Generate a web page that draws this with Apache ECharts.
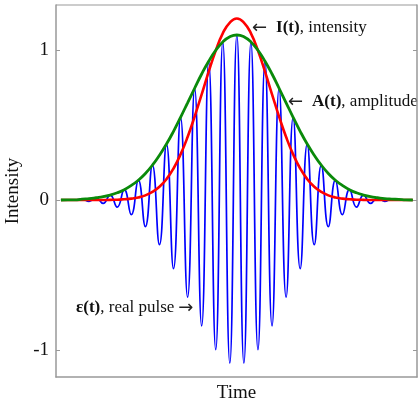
<!DOCTYPE html>
<html>
<head>
<meta charset="utf-8">
<script src="https://cdn.jsdelivr.net/npm/echarts@6/dist/echarts.min.js"></script>
<style>html,body{margin:0;padding:0;background:#fff}#c{width:418px;height:404px}</style>
</head>
<body>
<div id="c"></div>
<script>
// time samples (in half carrier periods, pulse centre at 0)
var time = [-25,-24,-23,-22,-21,-20,-19,-18,-17,-16,-15,-14,-13,-12,-11,-10,-9,-8,-7,-6,-5,-4,-3,-2,-1,0,1,2,3,4,5,6,7,8,9,10,11,12,13,14,15,16,17,18,19,20,21,22,23,24,25];
// real pulse epsilon(t): successive carrier extrema
var pulse = [0,0,-0.001,0.006,-0.009,0.015,-0.022,0.033,-0.048,0.069,-0.097,0.132,-0.177,0.232,-0.298,0.373,-0.458,0.551,-0.648,0.745,-0.840,0.925,-0.998,1.054,-1.088,1.10,-1.088,1.054,-0.998,0.925,-0.840,0.745,-0.648,0.551,-0.458,0.373,-0.298,0.232,-0.177,0.132,-0.097,0.069,-0.048,0.033,-0.022,0.015,-0.009,0.006,-0.001,0,0];
// amplitude envelope A(t)
var amplitude = [0.0,0.001,0.0004,0.006,0.009,0.015,0.022,0.033,0.048,0.069,0.097,0.132,0.177,0.232,0.298,0.373,0.458,0.551,0.648,0.745,0.840,0.925,0.998,1.054,1.088,1.10,1.088,1.054,0.998,0.925,0.840,0.745,0.648,0.551,0.458,0.373,0.298,0.232,0.177,0.132,0.097,0.069,0.048,0.033,0.022,0.015,0.009,0.006,0.004,0.001,0.0];
// intensity I(t)
var intensity = [0,0,0,0,0,0,0,0.001,0.002,0.005,0.009,0.017,0.031,0.054,0.088,0.139,0.210,0.304,0.420,0.556,0.704,0.856,0.996,1.111,1.183,1.21,1.183,1.111,0.996,0.856,0.704,0.556,0.420,0.304,0.210,0.139,0.088,0.054,0.031,0.017,0.009,0.005,0.002,0.001,0,0,0,0,0,0,0];
var yTicks = [-1, 0, 1];

function pairs(v){ return time.map(function(t,i){ return [t, v[i]]; }); }

var serif = '"Liberation Serif","DejaVu Serif",serif';
var arrowFont = '"DejaVu Sans",sans-serif';
var rich = {
  a: { fontFamily: serif, fontSize: 17, fill: '#111' },
  b: { fontFamily: serif, fontSize: 17, fontWeight: 'bold', fill: '#111' },
  r: { fontFamily: arrowFont, fontSize: 18, fill: '#222', padding: [0, 9, 0, 0] },
  l: { fontFamily: arrowFont, fontSize: 18, fill: '#222', padding: [0, 0, 0, 4] }
};
var chart = echarts.init(document.getElementById('c'));
chart.setOption({
  animation: false,
  backgroundColor: '#fff',
  grid: { left: 56, right: 1, top: 5, bottom: 27, show: false, containLabel: false, outerBoundsMode: 'none' },
  xAxis: {
    type: 'value', min: -25.7, max: 25.6,
    name: 'Time', nameLocation: 'middle', nameGap: 7,
    nameTextStyle: { fontFamily: serif, fontSize: 19, color: '#111' },
    axisLine: { show: true, onZero: false, lineStyle: { color: '#999', width: 1.5 } },
    axisTick: { show: false }, axisLabel: { show: false }, splitLine: { show: false }
  },
  yAxis: [{
    type: 'value', min: -1.18, max: 1.3, position: 'left',
    name: 'Intensity', nameLocation: 'middle', nameGap: 20, nameRotate: 90,
    nameTextStyle: { fontFamily: serif, fontSize: 19, color: '#111' },
    axisLine: { show: true, onZero: false, lineStyle: { color: '#999', width: 1.5 } },
    axisTick: { show: true, inside: true, length: 4, customValues: yTicks, lineStyle: { color: '#999' } },
    axisLabel: { show: true, customValues: yTicks, margin: 7, fontFamily: serif, fontSize: 19, color: '#111',
      formatter: function(v){ return String(v); } },
    splitLine: { show: false }
  }, {
    type: 'value', min: -1.18, max: 1.3, position: 'right',
    axisLine: { show: true, onZero: false, lineStyle: { color: '#999', width: 1.5 } },
    axisTick: { show: true, inside: true, length: 4, customValues: yTicks, lineStyle: { color: '#999' } },
    axisLabel: { show: false }, splitLine: { show: false }
  }],
  series: [
    { type: 'line', data: pairs(pulse), smooth: 0.5, showSymbol: false, symbol: 'none',
      lineStyle: { color: '#0000ff', width: 1.7 }, z: 2 },
    { type: 'line', data: pairs(intensity), smooth: 0.5, symbol: 'none',
      lineStyle: { color: '#ff0000', width: 2.6 }, z: 3 },
    { type: 'line', data: pairs(amplitude), smooth: 0.5, symbol: 'none',
      lineStyle: { color: '#0a8a0a', width: 2.8 }, z: 4 }
  ],
  graphic: [
    { type: 'line', shape: { x1: 56, y1: 5, x2: 417, y2: 5 }, style: { stroke: '#bbb', lineWidth: 1.5 }, silent: true },
    { type: 'text', left: 252, top: 19, style: { text: '{r|←}{b|I(t)}{a|, intensity}', rich: rich } },
    { type: 'text', left: 288, top: 93, style: { text: '{r|←}{b|A(t)}{a|, amplitude}', rich: rich } },
    { type: 'text', left: 76, top: 299, style: { text: '{b|ε(t)}{a|, real pulse}{l|→}', rich: rich } }
  ]
});
</script>
</body>
</html>
